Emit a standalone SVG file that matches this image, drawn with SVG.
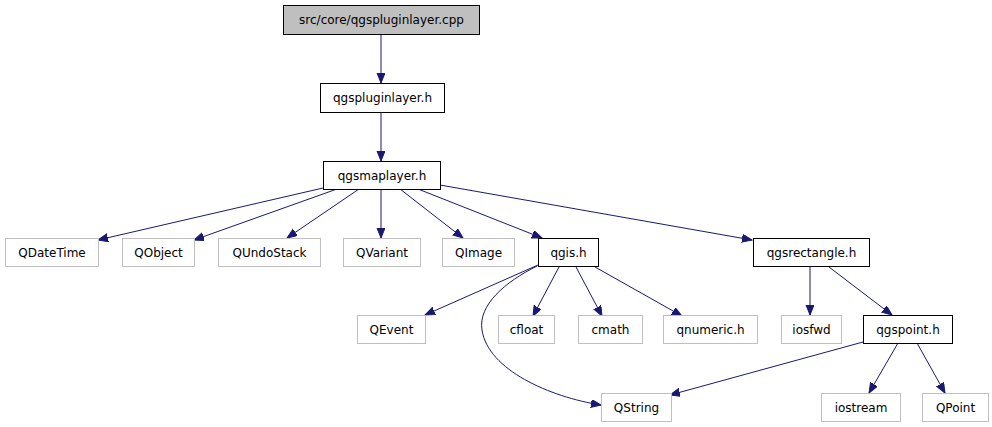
<svg xmlns="http://www.w3.org/2000/svg" width="992" height="427" viewBox="0 0 992 427">
<defs>
<marker id="ah" markerUnits="userSpaceOnUse" markerWidth="12" markerHeight="10" refX="10" refY="4" orient="auto">
<path d="M0,0 L10,4 L0,8 z" fill="#191970" stroke="#191970" stroke-width="1"/>
</marker>
</defs>
<style>
text{font-family:"DejaVu Sans",sans-serif;font-size:12px;text-anchor:middle;fill:#000}
.in rect{fill:#fff;stroke:#000;stroke-width:1}
.ext rect{fill:#fff;stroke:#bfbfbf;stroke-width:1}
.root rect{fill:#bfbfbf;stroke:#000;stroke-width:1}
#edges path{fill:none;stroke:#191970;stroke-width:1;marker-end:url(#ah)}
</style>
<rect width="992" height="427" fill="#fff"/>
<g id="edges">
<path d="M381,34 L381,83"/>
<path d="M381,113 L381,161"/>
<path d="M323,188 L98,240"/>
<path d="M337,189 L194,240"/>
<path d="M359,189 L287,238"/>
<path d="M381,189 L381,238"/>
<path d="M400,189 L463,238"/>
<path d="M418,189 L542,238"/>
<path d="M440,185 L752,240"/>
<path d="M538,265 L425,315"/>
<path d="M537,266 C505,282 478,305 482,330 C488,370 550,397 601,405"/>
<path d="M559,267 L533,316"/>
<path d="M576,267 L602,316"/>
<path d="M595,267 L682,316"/>
<path d="M810,267 L810,315"/>
<path d="M829,267 L892,315"/>
<path d="M863,342 L670,395"/>
<path d="M898,343 L869,393"/>
<path d="M917,343 L945,393"/>
</g>
<g id="n_root" class="root"><rect x="283.5" y="5.5" width="196" height="29"/><text x="381.5" y="24">src/core/qgspluginlayer.cpp</text></g>
<g id="n_pluginlayer" class="in"><rect x="320.5" y="83.5" width="124" height="29"/><text x="382.5" y="102">qgspluginlayer.h</text></g>
<g id="n_maplayer" class="in"><rect x="323.5" y="161.5" width="117" height="28"/><text x="382" y="180">qgsmaplayer.h</text></g>
<g id="n_qdatetime" class="ext"><rect x="5.5" y="238.5" width="93" height="28"/><text x="52" y="257">QDateTime</text></g>
<g id="n_qobject" class="ext"><rect x="122.5" y="238.5" width="72" height="28"/><text x="158.5" y="257">QObject</text></g>
<g id="n_qundostack" class="ext"><rect x="218.5" y="238.5" width="102" height="28"/><text x="269.5" y="257">QUndoStack</text></g>
<g id="n_qvariant" class="ext"><rect x="343.5" y="238.5" width="77" height="28"/><text x="382" y="257">QVariant</text></g>
<g id="n_qimage" class="ext"><rect x="442.5" y="238.5" width="72" height="28"/><text x="478.5" y="257">QImage</text></g>
<g id="n_qgis" class="in"><rect x="538.5" y="238.5" width="60" height="28"/><text x="568.5" y="257">qgis.h</text></g>
<g id="n_qgsrectangle" class="in"><rect x="753.5" y="238.5" width="116" height="28"/><text x="811.5" y="257">qgsrectangle.h</text></g>
<g id="n_qevent" class="ext"><rect x="357.5" y="315.5" width="68" height="28"/><text x="391.5" y="334">QEvent</text></g>
<g id="n_cfloat" class="ext"><rect x="498.5" y="315.5" width="56" height="28"/><text x="526.5" y="334">cfloat</text></g>
<g id="n_cmath" class="ext"><rect x="578.5" y="315.5" width="64" height="28"/><text x="610.5" y="334">cmath</text></g>
<g id="n_qnumeric" class="ext"><rect x="663.5" y="315.5" width="94" height="28"/><text x="710.5" y="334">qnumeric.h</text></g>
<g id="n_iosfwd" class="ext"><rect x="781.5" y="315.5" width="60" height="28"/><text x="811.5" y="334">iosfwd</text></g>
<g id="n_qgspoint" class="in"><rect x="863.5" y="315.5" width="89" height="28"/><text x="908" y="334">qgspoint.h</text></g>
<g id="n_qstring" class="ext"><rect x="601.5" y="393.5" width="70" height="28"/><text x="636.5" y="412">QString</text></g>
<g id="n_iostream" class="ext"><rect x="821.5" y="393.5" width="79" height="28"/><text x="861" y="412">iostream</text></g>
<g id="n_qpoint" class="ext"><rect x="922.5" y="393.5" width="66" height="28"/><text x="955.5" y="412">QPoint</text></g>
</svg>
